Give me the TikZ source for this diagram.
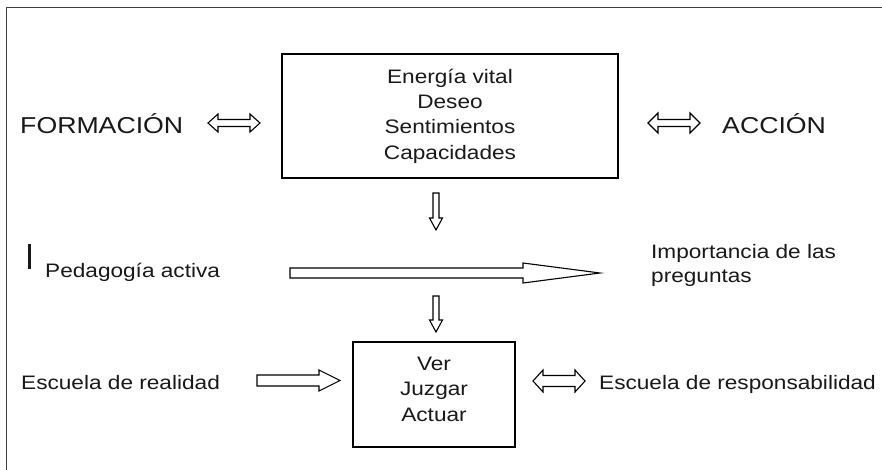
\documentclass[tikz,border=0pt]{standalone}
\usepackage{fontspec}
\setmainfont{Liberation Sans}[FakeStretch=1.16]
\begin{document}
\begin{tikzpicture}[x=1pt,y=-1pt,
  box/.style={draw=black,line width=1.2pt,inner sep=0pt,align=center,
    font=\fontsize{19.5}{25.4}\selectfont,text=black!90},
  lab/.style={anchor=base west,inner sep=0pt,font=\fontsize{19.5}{24}\selectfont,text=black!90},
  big/.style={anchor=base west,inner sep=0pt,font=\fontsize{23}{27}\selectfont,text=black!90},
  arrline/.style={draw=black,line width=1.1pt,line join=miter,fill=white},
  frameline/.style={draw=black!75,line width=1.5pt},
  pics/rblk/.style n args={4}{code={
    \draw[arrline] (0,-#2) -- ({#1-#4},-#2) -- ({#1-#4},-#3) -- (#1,0)
      -- ({#1-#4},#3) -- ({#1-#4},#2) -- (0,#2) -- cycle;}},
  pics/dblk/.style n args={4}{code={
    \draw[arrline] (0,0) -- (#4,-#3) -- (#4,-#2) -- ({#1-#4},-#2) -- ({#1-#4},-#3)
      -- (#1,0) -- ({#1-#4},#3) -- ({#1-#4},#2) -- (#4,#2) -- (#4,#3) -- cycle;}},
  pics/vblk/.style n args={4}{code={
    \draw[arrline] (-#2,0) -- (-#2,{#1-#4}) -- (-#3,{#1-#4}) -- (0,#1)
      -- (#3,{#1-#4}) -- (#2,{#1-#4}) -- (#2,0) -- cycle;}}
]
\useasboundingbox (0,0) rectangle (882,470);
\fill[white] (0,0) rectangle (882,470);
\draw[frameline] (6.7,470) -- (6.7,7.5) -- (882,7.5);

% boxes
\node[box, minimum width=336pt, minimum height=124pt] (b1) at (450,116)
  {Energía vital\\Deseo\\Sentimientos\\Capacidades};
\node[box, minimum width=162pt, minimum height=105pt, text depth=11pt] (b2) at (434,394.5)
  {Ver\\Juzgar\\Actuar};

% labels
\node[big] (form) at (20,134) {FORMACIÓN};
\node[big] (acc) at (722,134) {ACCIÓN};
\node[lab] (ped) at (45,277) {Pedagogía activa};
\node[lab] (imp1) at (651,258) {Importancia de las};
\node[lab] (imp2) at (651,282) {preguntas};
\node[lab] (real) at (21,389) {Escuela de realidad};
\node[lab] (resp) at (599,389) {Escuela de responsabilidad};

% cursor bar
\coordinate (barT) at (29.5,244);
\coordinate (barB) at (29.5,269);
\draw[line width=2.6pt,black!90] (barT) -- (barB);

% arrows
\coordinate (aFL) at (208,123);
\coordinate (aFR) at (648,123);
\coordinate (aD1) at (436,193);
\coordinate (aBig) at (290,273);
\coordinate (aD2) at (436,296);
\coordinate (aReal) at (257,380.5);
\coordinate (aResp) at (533,381);
\pic at (aFL) {dblk={52}{3.5}{9}{10}};
\pic at (aFR) {dblk={52}{3.5}{10}{10}};
\pic at (aD1) {vblk={37}{3}{6.5}{12}};
\pic at (aBig) {rblk={310}{5}{10}{77}};
\pic at (aD2) {vblk={36}{3}{6.5}{12}};
\pic at (aReal) {rblk={83}{5.5}{10.5}{21}};
\pic at (aResp) {dblk={52}{5.5}{11}{10}};
\end{tikzpicture}
\end{document}
